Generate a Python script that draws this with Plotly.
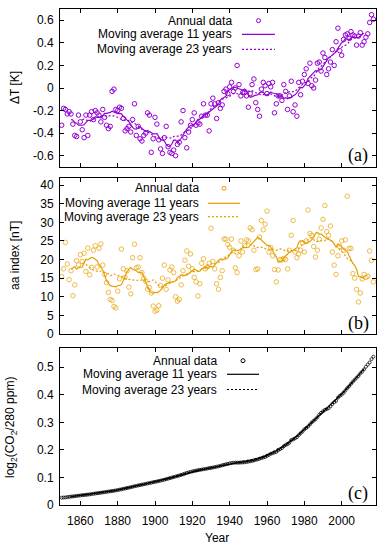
import numpy as np
import pandas as pd
import plotly.graph_objects as go

# ---------------- data ----------------
years = list(range(1850, 2018))

temp_anomaly = [
    -0.33, -0.18, -0.19, -0.23, -0.21, -0.23, -0.32, -0.42, -0.43, -0.24,
    -0.30, -0.37, -0.44, -0.24, -0.42, -0.24, -0.21, -0.28, -0.20, -0.22,
    -0.24, -0.30, -0.19, -0.26, -0.33, -0.36, -0.34, -0.03, -0.01, -0.19,
    -0.20, -0.17, -0.18, -0.27, -0.38, -0.36, -0.34, -0.39, -0.28, -0.14,
    -0.42, -0.34, -0.45, -0.47, -0.42, -0.40, -0.22, -0.24, -0.57, -0.45,
    -0.26, -0.32, -0.46, -0.54, -0.58, -0.44, -0.34, -0.52, -0.57, -0.58,
    -0.55, -0.60, -0.50, -0.48, -0.30, -0.20, -0.44, -0.53, -0.39, -0.33,
    -0.28, -0.22, -0.33, -0.31, -0.32, -0.25, -0.14, -0.24, -0.24, -0.38,
    -0.14, -0.09, -0.14, -0.27, -0.13, -0.18, -0.15, -0.03, -0.01, -0.05,
    0.01, 0.05, -0.03, 0.00, 0.20, 0.03, -0.07, -0.04, -0.04, -0.07,
    -0.17, -0.05, 0.03, 0.08, -0.13, -0.19, -0.25, -0.01, 0.05, 0.02,
    -0.05, 0.04, 0.01, 0.05, -0.22, -0.14, -0.07, -0.07, -0.11, 0.03,
    -0.03, -0.19, -0.07, 0.06, -0.21, -0.15, -0.25, 0.05, -0.06, 0.06,
    0.12, 0.17, 0.04, 0.22, 0.02, 0.00, 0.07, 0.22, 0.23, 0.15,
    0.31, 0.27, 0.12, 0.17, 0.23, 0.34, 0.20, 0.41, 0.53, 0.33,
    0.29, 0.43, 0.47, 0.48, 0.44, 0.50, 0.47, 0.46, 0.38, 0.46,
    0.49, 0.38, 0.41, 0.45, 0.48, 0.58, 0.65, 0.61,
]

aa_index = [
    15.4, 17.5, 24.6, 18.8, 14.6, 17.0, 10.3, 13.2, 19.7, 18.6,
    21.3, 19.5, 21.7, 16.8, 23.1, 15.9, 17.9, 22.5, 23.7, 18.0,
    23.0, 24.2, 18.5, 16.0, 13.8, 11.2, 9.3, 9.0, 7.4, 7.0,
    11.5, 14.8, 22.8, 17.5, 15.2, 17.0, 12.6, 10.8, 20.5, 24.1,
    17.8, 18.0, 20.5, 16.5, 15.0, 14.2, 12.0, 12.5, 11.0, 7.5,
    6.1, 6.4, 7.6, 13.0, 15.0, 18.5, 12.0, 14.5, 17.2, 18.0,
    16.5, 10.0, 8.8, 9.3, 13.2, 17.0, 19.8, 22.3, 18.2, 21.5,
    17.5, 15.2, 14.0, 10.2, 13.5, 19.0, 20.2, 17.5, 18.0, 19.0,
    28.4, 19.5, 17.5, 13.5, 12.0, 15.2, 17.0, 25.5, 25.5, 24.0,
    23.3, 25.5, 22.5, 17.8, 16.5, 21.0, 25.0, 22.0, 23.8, 25.3,
    25.0, 28.5, 28.0, 22.5, 17.3, 17.5, 26.0, 30.5, 28.0, 29.5,
    33.0, 22.0, 23.2, 21.0, 17.3, 14.0, 17.2, 20.0, 19.9, 20.3,
    20.0, 17.5, 22.5, 26.5, 30.5, 22.0, 20.5, 21.5, 22.5, 24.5,
    22.0, 25.0, 33.3, 27.0, 26.5, 23.5, 20.7, 22.5, 25.5, 28.5,
    30.8, 34.5, 27.5, 26.5, 29.0, 22.0, 18.5, 16.0, 21.0, 23.5,
    25.0, 22.5, 25.3, 37.0, 23.0, 23.0, 16.2, 15.0, 12.0, 8.6,
    11.0, 14.8, 16.0, 15.2, 15.5, 22.3, 19.8, 14.0,
]

co2_ppm = [
    285.2, 285.3, 285.4, 285.6, 285.8, 286.0, 286.1, 286.3, 286.5, 286.6,
    286.8, 287.0, 287.1, 287.3, 287.4, 287.6, 287.8, 288.0, 288.2, 288.4,
    288.6, 288.8, 289.0, 289.2, 289.4, 289.6, 289.8, 290.0, 290.2, 290.5,
    290.7, 291.0, 291.3, 291.6, 291.9, 292.2, 292.5, 292.8, 293.2, 293.5,
    293.8, 294.1, 294.4, 294.7, 295.0, 295.3, 295.6, 295.9, 296.2, 296.5,
    296.8, 297.1, 297.4, 297.7, 298.1, 298.4, 298.8, 299.2, 299.6, 300.0,
    300.4, 300.8, 301.2, 301.6, 302.0, 302.5, 303.0, 303.5, 303.9, 304.3,
    304.7, 305.0, 305.3, 305.6, 305.9, 306.1, 306.4, 306.6, 306.9, 307.2,
    307.4, 307.7, 308.0, 308.3, 308.6, 309.0, 309.4, 309.8, 310.2, 310.5,
    310.9, 311.2, 311.4, 311.5, 311.5, 311.5, 311.6, 311.7, 311.8, 312.0,
    312.3, 312.6, 312.9, 313.3, 313.7, 314.1, 314.6, 315.1, 315.6, 316.0,
    316.9, 317.6, 318.5, 319.0, 319.6, 320.0, 321.4, 322.2, 323.1, 324.6,
    325.7, 326.3, 327.5, 329.7, 330.2, 331.1, 332.1, 333.8, 335.4, 336.8,
    338.7, 339.9, 341.1, 342.9, 344.7, 346.1, 347.4, 349.2, 351.6, 353.1,
    354.4, 355.7, 356.5, 357.2, 358.9, 360.9, 362.7, 363.8, 366.8, 368.5,
    369.7, 371.3, 373.5, 375.8, 377.5, 379.8, 381.9, 383.8, 385.6, 387.4,
    389.9, 391.7, 393.9, 396.5, 398.7, 400.8, 404.2, 406.6,
]
co2_ref_ppm = 280.0

year_ticks = [1860, 1880, 1900, 1920, 1940, 1960, 1980, 2000]
temp_ticks = [-0.6, -0.4, -0.2, 0, 0.2, 0.4, 0.6]
temp_tick_text = ["-0.6", "-0.4", "-0.2", "0", "0.2", "0.4", "0.6"]
aa_ticks = [0, 5, 10, 15, 20, 25, 30, 35, 40]
co2_ticks = [0, 0.1, 0.2, 0.3, 0.4, 0.5]
co2_tick_text = ["0", "0.1", "0.2", "0.3", "0.4", "0.5"]

legend_labels = ["Annual data", "Moving average 11 years", "Moving average 23 years"]
panel_labels = ["(a)", "(b)", "(c)"]
y_titles = ["\u0394T [K]", "aa index [nT]", "log<sub>2</sub>(CO<sub>2</sub>/280 ppm)"]

# ---------------- derived ----------------
co2_log = list(np.log2(np.array(co2_ppm) / co2_ref_ppm))


def moving_average(vals, window):
    s = pd.Series(vals, dtype=float).rolling(window, center=True).mean()
    return [None if np.isnan(v) else float(v) for v in s]


PURPLE = "#9400d3"
ORANGE = "#e69f00"
BLACK = "#000000"
FONT = "Liberation Sans, Arial, Helvetica, sans-serif"
DOTS = "2px,2px"

W, H = 386, 550
L, R, T, B = 60, 10, 9, 45
PW, PH = W - L - R, H - T - B


def px(x):
    return (x - L) / PW


def py(y):
    return (H - B - y) / PH


fig = go.Figure()

series = [
    (temp_anomaly, PURPLE, 4.5, 1.0),
    (aa_index, ORANGE, 4.5, 0.7),
    (co2_log, BLACK, 3.0, 0.75),
]

for i, (vals, col, msize, mop) in enumerate(series):
    xa = "x" if i == 0 else f"x{i+1}"
    ya = "y" if i == 0 else f"y{i+1}"
    fig.add_trace(go.Scatter(
        x=years, y=vals, mode="markers", xaxis=xa, yaxis=ya,
        marker=dict(symbol="circle-open", size=msize, color=col, opacity=mop,
                    line=dict(width=1, color=col)),
        showlegend=False, hoverinfo="skip"))
    fig.add_trace(go.Scatter(
        x=years, y=moving_average(vals, 11), mode="lines", xaxis=xa, yaxis=ya,
        line=dict(color=col, width=1.2), showlegend=False, connectgaps=False,
        hoverinfo="skip"))
    fig.add_trace(go.Scatter(
        x=years, y=moving_average(vals, 23), mode="lines", xaxis=xa, yaxis=ya,
        line=dict(color=col, width=1.2, dash=DOTS), showlegend=False, connectgaps=False,
        hoverinfo="skip"))

# axes
domains = [
    [py(167), py(9)],
    [py(334), py(178)],
    [py(505), py(348)],
]
yranges = [[-0.7, 0.7], [0, 41.9], [0, 0.57]]
yticks = [(temp_ticks, temp_tick_text), (aa_ticks, [str(v) for v in aa_ticks]),
          (co2_ticks, co2_tick_text)]

common = dict(showline=True, linecolor=BLACK, linewidth=1, mirror="allticks",
              ticks="inside", ticklen=4, tickcolor=BLACK, tickwidth=1,
              showgrid=False, zeroline=False,
              tickfont=dict(family=FONT, size=12, color=BLACK))

layout = {}
for i in range(3):
    xk = "xaxis" if i == 0 else f"xaxis{i+1}"
    yk = "yaxis" if i == 0 else f"yaxis{i+1}"
    ya = "y" if i == 0 else f"y{i+1}"
    xa = "x" if i == 0 else f"x{i+1}"
    layout[xk] = dict(common, domain=[0, 1], anchor=ya, range=[1849.1, 2018.4],
                      tickvals=year_ticks, showticklabels=(i == 2),
                      ticklabelstandoff=5)
    layout[yk] = dict(common, domain=domains[i], anchor=xa, range=yranges[i],
                      tickvals=yticks[i][0], ticktext=yticks[i][1],
                      ticklabelstandoff=3)

fig.update_layout(
    width=W, height=H, margin=dict(l=L, r=R, t=T, b=B),
    paper_bgcolor="white", plot_bgcolor="white",
    font=dict(family=FONT, size=12, color=BLACK),
    showlegend=False, hovermode=False, **layout)

annotations = []
shapes = []

# custom gnuplot-like keys
legend_specs = [
    (234, [20.7, 34.3, 49.3], 242, 275, PURPLE),
    (201, [188.3, 203.3, 216.7], 208, 240, ORANGE),
    (219, [360.7, 374.3, 389.5], 227, 259, BLACK),
]
for (xr, rows, sx0, sx1, col) in legend_specs:
    for label, yy in zip(legend_labels, rows):
        annotations.append(dict(x=px(xr), y=py(yy), xref="paper", yref="paper",
                                text=label, showarrow=False, xanchor="right",
                                yanchor="middle", font=dict(family=FONT, size=12, color=BLACK)))
    cx = (sx0 + sx1) / 2
    r = 2
    shapes.append(dict(type="circle", xref="paper", yref="paper",
                       x0=px(cx - r), x1=px(cx + r), y0=py(rows[0] + r), y1=py(rows[0] - r),
                       line=dict(color=col, width=1)))
    shapes.append(dict(type="line", xref="paper", yref="paper",
                       x0=px(sx0), x1=px(sx1), y0=py(rows[1]), y1=py(rows[1]),
                       line=dict(color=col, width=1.2)))
    shapes.append(dict(type="line", xref="paper", yref="paper",
                       x0=px(sx0), x1=px(sx1), y0=py(rows[2]), y1=py(rows[2]),
                       line=dict(color=col, width=1.2, dash=DOTS)))

# panel labels
for lab, yy in zip(panel_labels, [155.7, 324, 493]):
    annotations.append(dict(x=px(358), y=py(yy), xref="paper", yref="paper",
                            text=lab, showarrow=False, xanchor="center", yanchor="middle",
                            font=dict(family="Liberation Serif, Times New Roman, serif",
                                      size=18, color=BLACK)))

# y titles
for title, xx, yy in zip(y_titles, [15, 15, 11], [88, 256, 428]):
    annotations.append(dict(x=px(xx), y=py(yy), xref="paper", yref="paper",
                            text=title, showarrow=False, textangle=-90,
                            xanchor="center", yanchor="middle",
                            font=dict(family=FONT, size=12, color=BLACK)))

# x title
annotations.append(dict(x=px(217), y=py(538), xref="paper", yref="paper",
                        text="Year", showarrow=False, xanchor="center", yanchor="middle",
                        font=dict(family=FONT, size=12, color=BLACK)))

fig.update_layout(annotations=annotations, shapes=shapes)

fig.write_html("out.html", config={"displayModeBar": False, "staticPlot": True},
               post_script="document.body.style.margin='0';document.body.style.padding='0';")
